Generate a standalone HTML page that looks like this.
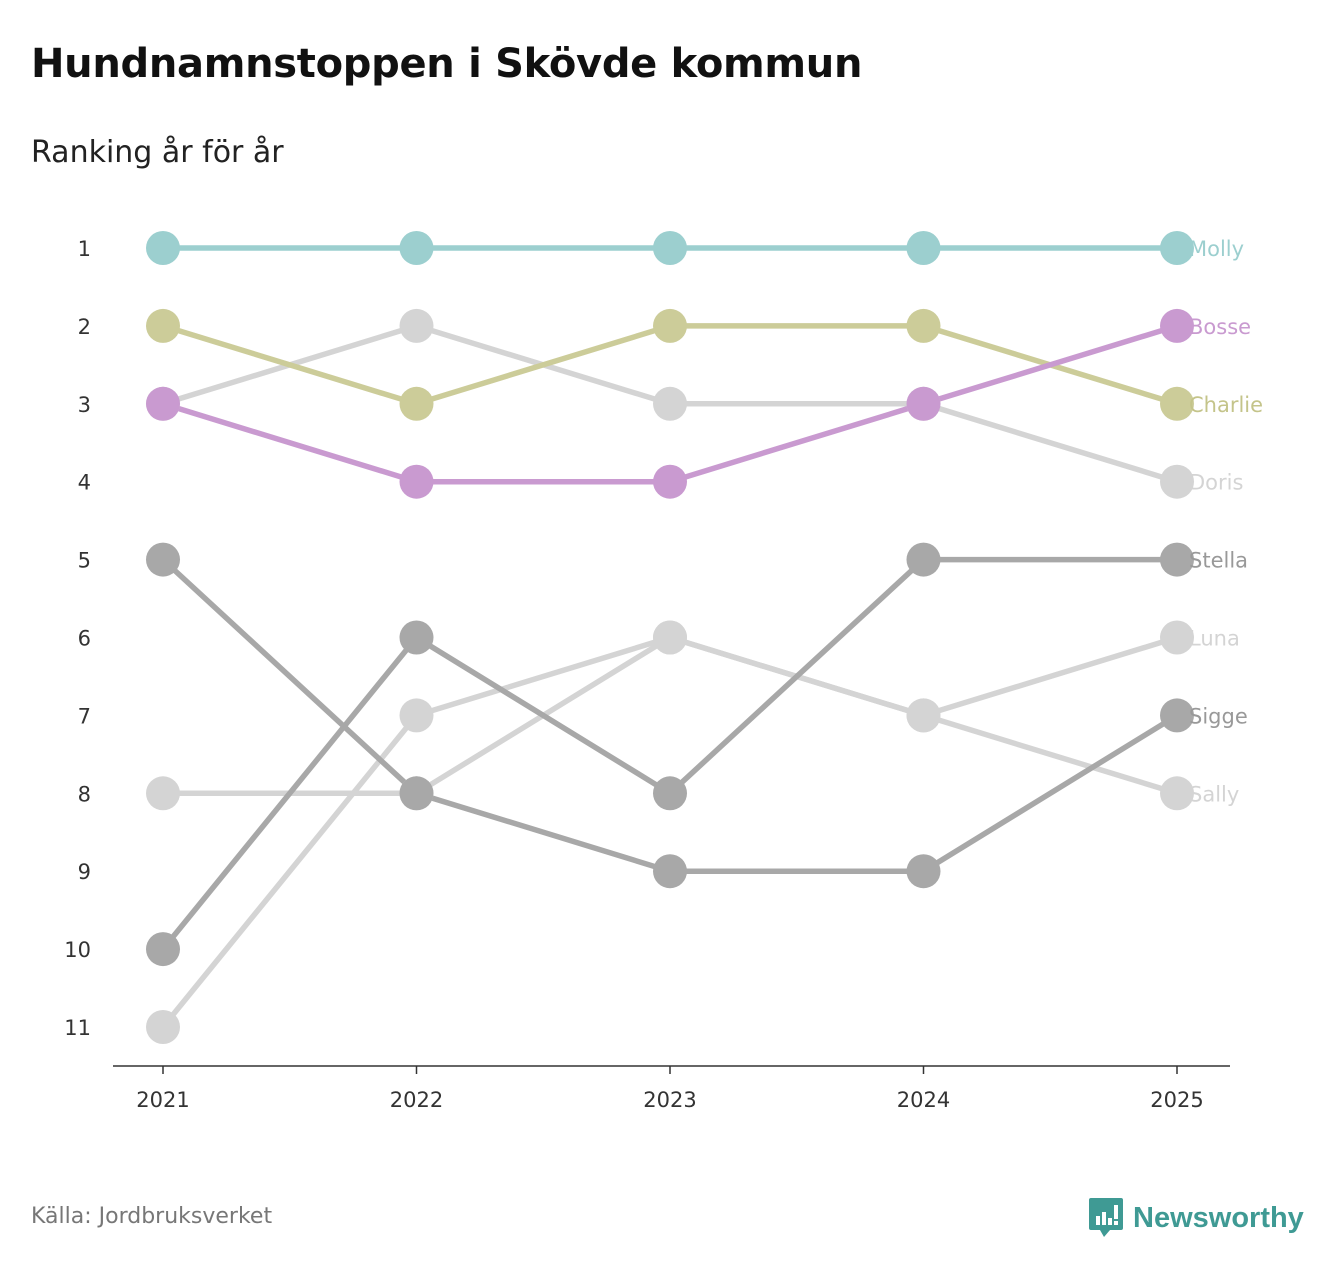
<!DOCTYPE html>
<html><head><meta charset="utf-8">
<style>
body{margin:0;background:#fff;width:1340px;height:1269px;overflow:hidden;font-family:"DejaVu Sans","Liberation Sans",sans-serif;}
#title{position:absolute;left:31px;top:41px;font-size:40px;font-weight:bold;color:#111;margin:0;letter-spacing:-0.3px}
#sub{position:absolute;left:31px;top:135px;font-size:30px;color:#222}
#src{position:absolute;left:31px;top:1204px;font-size:22px;color:#777}
#logo{position:absolute;left:1088px;top:1196px;display:flex;align-items:center}
#logo span{font-size:29px;font-weight:bold;color:#3f9a94;margin-left:9px;font-family:"Liberation Sans",sans-serif}
svg#chart{position:absolute;left:0;top:0}
</style></head><body>
<h1 id="title">Hundnamnstoppen i Skövde kommun</h1>
<div id="sub">Ranking år för år</div>
<div id="src">Källa: Jordbruksverket</div>
<div id="logo">
<svg width="36" height="44" viewBox="0 0 36 44"><path d="M3 2h30a2 2 0 0 1 2 2v28a2 2 0 0 1-2 2H22l-6 7-4-7H3a2 2 0 0 1-2-2V4a2 2 0 0 1 2-2z" fill="#3f9a94"/><rect x="8" y="20" width="4" height="9" fill="#fff"/><rect x="14" y="16" width="4" height="13" fill="#fff"/><rect x="20" y="22" width="4" height="7" fill="#fff"/><rect x="26" y="9" width="4" height="14" fill="#fff"/><rect x="26" y="25" width="4" height="4" fill="#fff"/></svg>
<span>Newsworthy</span></div>
<svg id="chart" width="1340" height="1269"></svg>
<script>
const years=["2021","2022","2023","2024","2025"];
const rankTicks=[1,2,3,4,5,6,7,8,9,10,11];
const names=["Sally","Luna","Sigge","Stella","Doris","Charlie","Bosse","Molly"];
const colors=["#d4d4d4","#d4d4d4","#a8a8a8","#a8a8a8","#d4d4d4","#cccc99","#c99ad0","#9ccfcf"];
const labelColors=["#d4d4d4","#d4d4d4","#999","#999","#d4d4d4","#c4c48a","#c99ad0","#9ccfcf"];
const sally=[8,8,6,7,8];
const luna=[11,7,6,7,6];
const sigge=[5,8,9,9,7];
const stella=[10,6,8,5,5];
const doris=[3,2,3,3,4];
const charlie=[2,3,2,2,3];
const bosse=[3,4,4,3,2];
const molly=[1,1,1,1,1];
const series=[sally,luna,sigge,stella,doris,charlie,bosse,molly];
const NS="http://www.w3.org/2000/svg";
const svg=document.getElementById('chart');
const FF='DejaVu Sans, Liberation Sans, sans-serif';
const x=i=>163+i*253.5;
const y=r=>248+(r-1)*77.9;
function mk(t,a){const e=document.createElementNS(NS,t);for(const k in a)e.setAttribute(k,a[k]);svg.appendChild(e);return e;}
const ax=mk('line',{x1:113,x2:1230,y1:1066,y2:1066,stroke:'#333','stroke-width':1.5});


years.forEach((yr,i)=>{
 const t=mk('line',{x1:x(i),x2:x(i),y1:1066,y2:1074,stroke:'#333','stroke-width':1.5});
 
 
 const l=mk('text',{x:x(i),y:1107,'text-anchor':'middle','font-size':21,fill:'#333','font-family':FF});
 l.textContent=yr;
 
 
});
rankTicks.forEach(r=>{
 const l=mk('text',{x:91,y:y(r)+8,'text-anchor':'end','font-size':21,fill:'#333','font-family':FF});
 l.textContent=r;
 
 
});
series.forEach((s,k)=>{
 const p=mk('polyline',{points:s.map((r,i)=>x(i)+','+y(r)).join(' '),fill:'none',stroke:colors[k],'stroke-width':5.5});
 
 
});
series.forEach((s,k)=>{
 s.forEach((r,i)=>{
  const c=mk('circle',{cx:x(i),cy:y(r),r:17,fill:colors[k]});
  
  
 });
 const l=mk('text',{x:1189,y:y(s[4])+8,'font-size':21,fill:labelColors[k],'font-family':FF});
 l.textContent=names[k];
 
 
});
</script>
</body></html>
